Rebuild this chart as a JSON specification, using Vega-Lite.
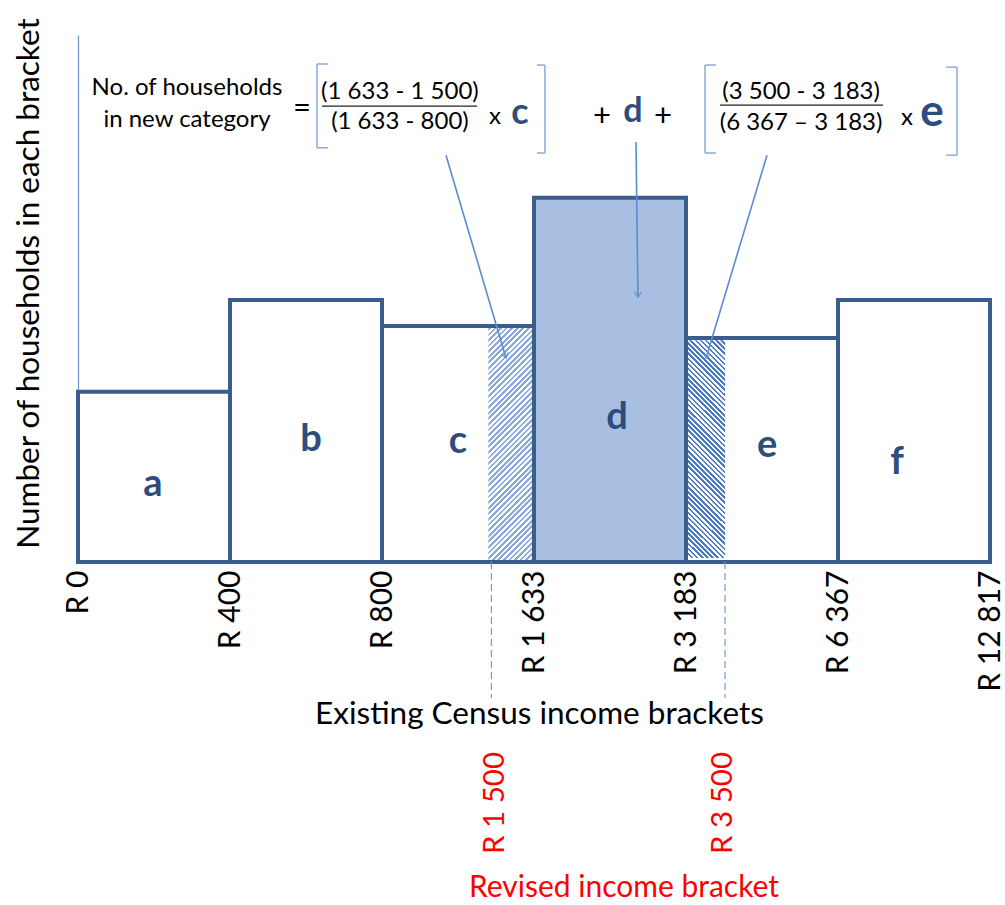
{
  "$schema": "https://vega.github.io/schema/vega-lite/v6.json",
  "width": 912,
  "height": 527,
  "autosize": {"type": "none"},
  "padding": {"left": 78, "top": 35, "right": 15, "bottom": 343},
  "background": "white",
  "config": {"view": {"stroke": null}, "font": "Lato", "text": {"font": "Lato"}},
  "data": {"values": [
    {"kind": "bar", "name": "a", "x": 0, "x2": 1, "y": 32.3, "y2": 0},
    {"kind": "bar", "name": "b", "x": 1, "x2": 2, "y": 49.7, "y2": 0},
    {"kind": "bar", "name": "c", "x": 2, "x2": 3, "y": 44.8, "y2": 0},
    {"kind": "bar", "name": "d", "x": 3, "x2": 4, "y": 69.1, "y2": 0},
    {"kind": "bar", "name": "e", "x": 4, "x2": 5, "y": 42.5, "y2": 0},
    {"kind": "bar", "name": "f", "x": 5, "x2": 6, "y": 49.7, "y2": 0},
    {"kind": "hatchc", "x": 2.7, "x2": 3, "y": 44.4, "y2": 0},
    {"kind": "hatche", "x": 4, "x2": 4.257, "y": 42.1, "y2": 0.76},
    {"kind": "letter", "label": "a", "x": 0.493, "y": 14.6},
    {"kind": "letter", "label": "b", "x": 1.533, "y": 23.1},
    {"kind": "letter", "label": "c", "x": 2.5, "y": 22.8},
    {"kind": "letter", "label": "d", "x": 3.546, "y": 27.3},
    {"kind": "letter", "label": "e", "x": 4.533, "y": 22.0},
    {"kind": "letter", "label": "f", "x": 5.388, "y": 18.8},
    {"kind": "ftext", "label": "No. of households", "x": 0.717, "y": 89.9},
    {"kind": "ftext", "label": "in new category", "x": 0.717, "y": 83.9},
    {"kind": "fplus", "label": "=", "x": 1.474, "y": 86.0},
    {"kind": "ftext", "label": "(1 633 - 1 500)", "x": 2.118, "y": 89.2},
    {"kind": "ftext", "label": "(1 633 - 800)", "x": 2.118, "y": 83.5},
    {"kind": "ftext", "label": "x", "x": 2.743, "y": 84.4},
    {"kind": "fplus", "label": "+", "x": 3.447, "y": 84.4},
    {"kind": "fplus", "label": "+", "x": 3.849, "y": 84.4},
    {"kind": "ftext", "label": "(3 500 - 3 183)", "x": 4.757, "y": 89.2},
    {"kind": "ftext", "label": "(6 367 – 3 183)", "x": 4.757, "y": 83.3},
    {"kind": "ftext", "label": "x", "x": 5.454, "y": 84.3},
    {"kind": "fbold", "label": "c", "x": 2.908, "y": 85.2},
    {"kind": "fbold", "label": "d", "x": 3.651, "y": 85.4},
    {"kind": "fbold", "label": "e", "x": 5.618, "y": 85.2},
    {"kind": "bracket", "x": 1.572, "y": 94.5, "x2": 1.572, "y2": 78.6},
    {"kind": "bracket", "x": 1.572, "y": 94.5, "x2": 1.645, "y2": 94.5},
    {"kind": "bracket", "x": 1.572, "y": 78.6, "x2": 1.645, "y2": 78.6},
    {"kind": "bracket", "x": 3.072, "y": 94.3, "x2": 3.072, "y2": 77.6},
    {"kind": "bracket", "x": 3.02, "y": 94.3, "x2": 3.072, "y2": 94.3},
    {"kind": "bracket", "x": 3.02, "y": 77.6, "x2": 3.072, "y2": 77.6},
    {"kind": "bracket", "x": 4.125, "y": 94.3, "x2": 4.125, "y2": 77.6},
    {"kind": "bracket", "x": 4.125, "y": 94.3, "x2": 4.197, "y2": 94.3},
    {"kind": "bracket", "x": 4.125, "y": 77.6, "x2": 4.197, "y2": 77.6},
    {"kind": "bracket", "x": 5.783, "y": 93.9, "x2": 5.783, "y2": 77.2},
    {"kind": "bracket", "x": 5.711, "y": 93.9, "x2": 5.783, "y2": 93.9},
    {"kind": "bracket", "x": 5.711, "y": 77.2, "x2": 5.783, "y2": 77.2},
    {"kind": "fline", "x": 1.605, "y": 86.5, "x2": 2.625, "y2": 86.5},
    {"kind": "fline", "x": 4.224, "y": 86.7, "x2": 5.296, "y2": 86.7},
    {"kind": "arrow", "name": "c", "x": 2.421, "y": 77.2, "x2": 2.816, "y2": 38.7},
    {"kind": "arrow", "name": "d", "x": 3.671, "y": 79.7, "x2": 3.684, "y2": 50.3},
    {"kind": "arrow", "name": "e", "x": 4.533, "y": 77.2, "x2": 4.132, "y2": 38.7},
    {"kind": "dash", "x": 2.72, "y": 0, "x2": 2.72, "y2": -25.8},
    {"kind": "dash", "x": 4.257, "y": 0, "x2": 4.257, "y2": -25.8},
    {"kind": "red", "label": "R 1 500", "x": 2.743, "y": -36.05},
    {"kind": "red", "label": "R 3 500", "x": 4.243, "y": -36.05},
    {"kind": "redtitle", "label": "Revised income bracket", "x": 3.592, "y": -61.8}
  ]},
  "encoding": {
    "x": {
      "field": "x", "type": "quantitative",
      "scale": {"domain": [0, 6], "nice": false, "zero": false},
      "axis": {
        "values": [0, 1, 2, 3, 4, 5, 6],
        "labelExpr": "['R 0','R 400','R 800','R 1 633','R 3 183','R 6 367','R 12 817'][datum.value]",
        "labelAngle": -90, "labelFontSize": 30, "labelFont": "Lato", "labelColor": "black",
        "labelPadding": 8, "labelOverlap": false, "labelBound": false, "labelFlush": false,
        "domain": false, "ticks": false, "grid": false,
        "title": "Existing Census income brackets", "titleFont": "Lato", "titleFontSize": 31.5,
        "titleFontWeight": "normal", "titleColor": "black", "titleX": 461, "titleY": 136,
        "titleBaseline": "top"
      }
    },
    "y": {
      "field": "y", "type": "quantitative",
      "scale": {"domain": [0, 100], "nice": false, "zero": false},
      "axis": {
        "domain": true, "domainColor": "#6f96cf", "domainWidth": 1.2, "ticks": false, "labels": false, "grid": false,
        "title": "Number of households in each bracket", "titleFont": "Lato", "titleFontSize": 31.5,
        "titleFontWeight": "normal", "titleColor": "black", "titleX": -40, "titleY": 248,
        "titleBaseline": "alphabetic", "titleAngle": -90
      }
    }
  },
  "layer": [
    {
      "transform": [{"filter": "datum.kind === 'bar' && datum.name === 'd'"}],
      "mark": {"type": "rect", "fill": "#a9bfe2", "stroke": null},
      "encoding": {"x2": {"field": "x2"}, "y2": {"field": "y2"}}
    },
    {
      "transform": [{"filter": "datum.kind === 'hatchc'"}],
      "mark": {"type": "rect", "stroke": null, "fill": {"gradient": "linear", "x1": 0, "y1": 0, "x2": 0.2243, "y2": 1.151, "stops": [
        {"offset":0,"color":"#8aa9dc"},{"offset":0.01,"color":"#8aa9dc"},{"offset":0.01,"color":"#ffffff"},{"offset":0.02,"color":"#ffffff"},
        {"offset":0.02,"color":"#8aa9dc"},{"offset":0.03,"color":"#8aa9dc"},{"offset":0.03,"color":"#ffffff"},{"offset":0.04,"color":"#ffffff"},
        {"offset":0.04,"color":"#8aa9dc"},{"offset":0.05,"color":"#8aa9dc"},{"offset":0.05,"color":"#ffffff"},{"offset":0.06,"color":"#ffffff"},
        {"offset":0.06,"color":"#8aa9dc"},{"offset":0.07,"color":"#8aa9dc"},{"offset":0.07,"color":"#ffffff"},{"offset":0.08,"color":"#ffffff"},
        {"offset":0.08,"color":"#8aa9dc"},{"offset":0.09,"color":"#8aa9dc"},{"offset":0.09,"color":"#ffffff"},{"offset":0.10,"color":"#ffffff"},
        {"offset":0.10,"color":"#8aa9dc"},{"offset":0.11,"color":"#8aa9dc"},{"offset":0.11,"color":"#ffffff"},{"offset":0.12,"color":"#ffffff"},
        {"offset":0.12,"color":"#8aa9dc"},{"offset":0.13,"color":"#8aa9dc"},{"offset":0.13,"color":"#ffffff"},{"offset":0.14,"color":"#ffffff"},
        {"offset":0.14,"color":"#8aa9dc"},{"offset":0.15,"color":"#8aa9dc"},{"offset":0.15,"color":"#ffffff"},{"offset":0.16,"color":"#ffffff"},
        {"offset":0.16,"color":"#8aa9dc"},{"offset":0.17,"color":"#8aa9dc"},{"offset":0.17,"color":"#ffffff"},{"offset":0.18,"color":"#ffffff"},
        {"offset":0.18,"color":"#8aa9dc"},{"offset":0.19,"color":"#8aa9dc"},{"offset":0.19,"color":"#ffffff"},{"offset":0.20,"color":"#ffffff"},
        {"offset":0.20,"color":"#8aa9dc"},{"offset":0.21,"color":"#8aa9dc"},{"offset":0.21,"color":"#ffffff"},{"offset":0.22,"color":"#ffffff"},
        {"offset":0.22,"color":"#8aa9dc"},{"offset":0.23,"color":"#8aa9dc"},{"offset":0.23,"color":"#ffffff"},{"offset":0.24,"color":"#ffffff"},
        {"offset":0.24,"color":"#8aa9dc"},{"offset":0.25,"color":"#8aa9dc"},{"offset":0.25,"color":"#ffffff"},{"offset":0.26,"color":"#ffffff"},
        {"offset":0.26,"color":"#8aa9dc"},{"offset":0.27,"color":"#8aa9dc"},{"offset":0.27,"color":"#ffffff"},{"offset":0.28,"color":"#ffffff"},
        {"offset":0.28,"color":"#8aa9dc"},{"offset":0.29,"color":"#8aa9dc"},{"offset":0.29,"color":"#ffffff"},{"offset":0.30,"color":"#ffffff"},
        {"offset":0.30,"color":"#8aa9dc"},{"offset":0.31,"color":"#8aa9dc"},{"offset":0.31,"color":"#ffffff"},{"offset":0.32,"color":"#ffffff"},
        {"offset":0.32,"color":"#8aa9dc"},{"offset":0.33,"color":"#8aa9dc"},{"offset":0.33,"color":"#ffffff"},{"offset":0.34,"color":"#ffffff"},
        {"offset":0.34,"color":"#8aa9dc"},{"offset":0.35,"color":"#8aa9dc"},{"offset":0.35,"color":"#ffffff"},{"offset":0.36,"color":"#ffffff"},
        {"offset":0.36,"color":"#8aa9dc"},{"offset":0.37,"color":"#8aa9dc"},{"offset":0.37,"color":"#ffffff"},{"offset":0.38,"color":"#ffffff"},
        {"offset":0.38,"color":"#8aa9dc"},{"offset":0.39,"color":"#8aa9dc"},{"offset":0.39,"color":"#ffffff"},{"offset":0.40,"color":"#ffffff"},
        {"offset":0.40,"color":"#8aa9dc"},{"offset":0.41,"color":"#8aa9dc"},{"offset":0.41,"color":"#ffffff"},{"offset":0.42,"color":"#ffffff"},
        {"offset":0.42,"color":"#8aa9dc"},{"offset":0.43,"color":"#8aa9dc"},{"offset":0.43,"color":"#ffffff"},{"offset":0.44,"color":"#ffffff"},
        {"offset":0.44,"color":"#8aa9dc"},{"offset":0.45,"color":"#8aa9dc"},{"offset":0.45,"color":"#ffffff"},{"offset":0.46,"color":"#ffffff"},
        {"offset":0.46,"color":"#8aa9dc"},{"offset":0.47,"color":"#8aa9dc"},{"offset":0.47,"color":"#ffffff"},{"offset":0.48,"color":"#ffffff"},
        {"offset":0.48,"color":"#8aa9dc"},{"offset":0.49,"color":"#8aa9dc"},{"offset":0.49,"color":"#ffffff"},{"offset":0.50,"color":"#ffffff"},
        {"offset":0.50,"color":"#8aa9dc"},{"offset":0.51,"color":"#8aa9dc"},{"offset":0.51,"color":"#ffffff"},{"offset":0.52,"color":"#ffffff"},
        {"offset":0.52,"color":"#8aa9dc"},{"offset":0.53,"color":"#8aa9dc"},{"offset":0.53,"color":"#ffffff"},{"offset":0.54,"color":"#ffffff"},
        {"offset":0.54,"color":"#8aa9dc"},{"offset":0.55,"color":"#8aa9dc"},{"offset":0.55,"color":"#ffffff"},{"offset":0.56,"color":"#ffffff"},
        {"offset":0.56,"color":"#8aa9dc"},{"offset":0.57,"color":"#8aa9dc"},{"offset":0.57,"color":"#ffffff"},{"offset":0.58,"color":"#ffffff"},
        {"offset":0.58,"color":"#8aa9dc"},{"offset":0.59,"color":"#8aa9dc"},{"offset":0.59,"color":"#ffffff"},{"offset":0.60,"color":"#ffffff"},
        {"offset":0.60,"color":"#8aa9dc"},{"offset":0.61,"color":"#8aa9dc"},{"offset":0.61,"color":"#ffffff"},{"offset":0.62,"color":"#ffffff"},
        {"offset":0.62,"color":"#8aa9dc"},{"offset":0.63,"color":"#8aa9dc"},{"offset":0.63,"color":"#ffffff"},{"offset":0.64,"color":"#ffffff"},
        {"offset":0.64,"color":"#8aa9dc"},{"offset":0.65,"color":"#8aa9dc"},{"offset":0.65,"color":"#ffffff"},{"offset":0.66,"color":"#ffffff"},
        {"offset":0.66,"color":"#8aa9dc"},{"offset":0.67,"color":"#8aa9dc"},{"offset":0.67,"color":"#ffffff"},{"offset":0.68,"color":"#ffffff"},
        {"offset":0.68,"color":"#8aa9dc"},{"offset":0.69,"color":"#8aa9dc"},{"offset":0.69,"color":"#ffffff"},{"offset":0.70,"color":"#ffffff"},
        {"offset":0.70,"color":"#8aa9dc"},{"offset":0.71,"color":"#8aa9dc"},{"offset":0.71,"color":"#ffffff"},{"offset":0.72,"color":"#ffffff"},
        {"offset":0.72,"color":"#8aa9dc"},{"offset":0.73,"color":"#8aa9dc"},{"offset":0.73,"color":"#ffffff"},{"offset":0.74,"color":"#ffffff"},
        {"offset":0.74,"color":"#8aa9dc"},{"offset":0.75,"color":"#8aa9dc"},{"offset":0.75,"color":"#ffffff"},{"offset":0.76,"color":"#ffffff"},
        {"offset":0.76,"color":"#8aa9dc"},{"offset":0.77,"color":"#8aa9dc"},{"offset":0.77,"color":"#ffffff"},{"offset":0.78,"color":"#ffffff"},
        {"offset":0.78,"color":"#8aa9dc"},{"offset":0.79,"color":"#8aa9dc"},{"offset":0.79,"color":"#ffffff"},{"offset":0.80,"color":"#ffffff"},
        {"offset":0.80,"color":"#8aa9dc"},{"offset":0.81,"color":"#8aa9dc"},{"offset":0.81,"color":"#ffffff"},{"offset":0.82,"color":"#ffffff"},
        {"offset":0.82,"color":"#8aa9dc"},{"offset":0.83,"color":"#8aa9dc"},{"offset":0.83,"color":"#ffffff"},{"offset":0.84,"color":"#ffffff"},
        {"offset":0.84,"color":"#8aa9dc"},{"offset":0.85,"color":"#8aa9dc"},{"offset":0.85,"color":"#ffffff"},{"offset":0.86,"color":"#ffffff"},
        {"offset":0.86,"color":"#8aa9dc"},{"offset":0.87,"color":"#8aa9dc"},{"offset":0.87,"color":"#ffffff"},{"offset":0.88,"color":"#ffffff"},
        {"offset":0.88,"color":"#8aa9dc"},{"offset":0.89,"color":"#8aa9dc"},{"offset":0.89,"color":"#ffffff"},{"offset":0.90,"color":"#ffffff"},
        {"offset":0.90,"color":"#8aa9dc"},{"offset":0.91,"color":"#8aa9dc"},{"offset":0.91,"color":"#ffffff"},{"offset":0.92,"color":"#ffffff"},
        {"offset":0.92,"color":"#8aa9dc"},{"offset":0.93,"color":"#8aa9dc"},{"offset":0.93,"color":"#ffffff"},{"offset":0.94,"color":"#ffffff"},
        {"offset":0.94,"color":"#8aa9dc"},{"offset":0.95,"color":"#8aa9dc"},{"offset":0.95,"color":"#ffffff"},{"offset":0.96,"color":"#ffffff"},
        {"offset":0.96,"color":"#8aa9dc"},{"offset":0.97,"color":"#8aa9dc"},{"offset":0.97,"color":"#ffffff"},{"offset":0.98,"color":"#ffffff"},
        {"offset":0.98,"color":"#8aa9dc"},{"offset":0.99,"color":"#8aa9dc"},{"offset":0.99,"color":"#ffffff"},{"offset":1,"color":"#ffffff"}
      ]}},
      "encoding": {"x2": {"field": "x2"}, "y2": {"field": "y2"}}
    },
    {
      "transform": [{"filter": "datum.kind === 'hatche'"}],
      "mark": {"type": "rect", "stroke": null, "fill": {"gradient": "linear", "x1": 0, "y1": 1, "x2": 0.2044, "y2": -0.1424, "stops": [
        {"offset":0,"color":"#4d7cc5"},{"offset":0.01,"color":"#4d7cc5"},{"offset":0.01,"color":"#ffffff"},{"offset":0.02,"color":"#ffffff"},
        {"offset":0.02,"color":"#4d7cc5"},{"offset":0.03,"color":"#4d7cc5"},{"offset":0.03,"color":"#ffffff"},{"offset":0.04,"color":"#ffffff"},
        {"offset":0.04,"color":"#4d7cc5"},{"offset":0.05,"color":"#4d7cc5"},{"offset":0.05,"color":"#ffffff"},{"offset":0.06,"color":"#ffffff"},
        {"offset":0.06,"color":"#4d7cc5"},{"offset":0.07,"color":"#4d7cc5"},{"offset":0.07,"color":"#ffffff"},{"offset":0.08,"color":"#ffffff"},
        {"offset":0.08,"color":"#4d7cc5"},{"offset":0.09,"color":"#4d7cc5"},{"offset":0.09,"color":"#ffffff"},{"offset":0.10,"color":"#ffffff"},
        {"offset":0.10,"color":"#4d7cc5"},{"offset":0.11,"color":"#4d7cc5"},{"offset":0.11,"color":"#ffffff"},{"offset":0.12,"color":"#ffffff"},
        {"offset":0.12,"color":"#4d7cc5"},{"offset":0.13,"color":"#4d7cc5"},{"offset":0.13,"color":"#ffffff"},{"offset":0.14,"color":"#ffffff"},
        {"offset":0.14,"color":"#4d7cc5"},{"offset":0.15,"color":"#4d7cc5"},{"offset":0.15,"color":"#ffffff"},{"offset":0.16,"color":"#ffffff"},
        {"offset":0.16,"color":"#4d7cc5"},{"offset":0.17,"color":"#4d7cc5"},{"offset":0.17,"color":"#ffffff"},{"offset":0.18,"color":"#ffffff"},
        {"offset":0.18,"color":"#4d7cc5"},{"offset":0.19,"color":"#4d7cc5"},{"offset":0.19,"color":"#ffffff"},{"offset":0.20,"color":"#ffffff"},
        {"offset":0.20,"color":"#4d7cc5"},{"offset":0.21,"color":"#4d7cc5"},{"offset":0.21,"color":"#ffffff"},{"offset":0.22,"color":"#ffffff"},
        {"offset":0.22,"color":"#4d7cc5"},{"offset":0.23,"color":"#4d7cc5"},{"offset":0.23,"color":"#ffffff"},{"offset":0.24,"color":"#ffffff"},
        {"offset":0.24,"color":"#4d7cc5"},{"offset":0.25,"color":"#4d7cc5"},{"offset":0.25,"color":"#ffffff"},{"offset":0.26,"color":"#ffffff"},
        {"offset":0.26,"color":"#4d7cc5"},{"offset":0.27,"color":"#4d7cc5"},{"offset":0.27,"color":"#ffffff"},{"offset":0.28,"color":"#ffffff"},
        {"offset":0.28,"color":"#4d7cc5"},{"offset":0.29,"color":"#4d7cc5"},{"offset":0.29,"color":"#ffffff"},{"offset":0.30,"color":"#ffffff"},
        {"offset":0.30,"color":"#4d7cc5"},{"offset":0.31,"color":"#4d7cc5"},{"offset":0.31,"color":"#ffffff"},{"offset":0.32,"color":"#ffffff"},
        {"offset":0.32,"color":"#4d7cc5"},{"offset":0.33,"color":"#4d7cc5"},{"offset":0.33,"color":"#ffffff"},{"offset":0.34,"color":"#ffffff"},
        {"offset":0.34,"color":"#4d7cc5"},{"offset":0.35,"color":"#4d7cc5"},{"offset":0.35,"color":"#ffffff"},{"offset":0.36,"color":"#ffffff"},
        {"offset":0.36,"color":"#4d7cc5"},{"offset":0.37,"color":"#4d7cc5"},{"offset":0.37,"color":"#ffffff"},{"offset":0.38,"color":"#ffffff"},
        {"offset":0.38,"color":"#4d7cc5"},{"offset":0.39,"color":"#4d7cc5"},{"offset":0.39,"color":"#ffffff"},{"offset":0.40,"color":"#ffffff"},
        {"offset":0.40,"color":"#4d7cc5"},{"offset":0.41,"color":"#4d7cc5"},{"offset":0.41,"color":"#ffffff"},{"offset":0.42,"color":"#ffffff"},
        {"offset":0.42,"color":"#4d7cc5"},{"offset":0.43,"color":"#4d7cc5"},{"offset":0.43,"color":"#ffffff"},{"offset":0.44,"color":"#ffffff"},
        {"offset":0.44,"color":"#4d7cc5"},{"offset":0.45,"color":"#4d7cc5"},{"offset":0.45,"color":"#ffffff"},{"offset":0.46,"color":"#ffffff"},
        {"offset":0.46,"color":"#4d7cc5"},{"offset":0.47,"color":"#4d7cc5"},{"offset":0.47,"color":"#ffffff"},{"offset":0.48,"color":"#ffffff"},
        {"offset":0.48,"color":"#4d7cc5"},{"offset":0.49,"color":"#4d7cc5"},{"offset":0.49,"color":"#ffffff"},{"offset":0.50,"color":"#ffffff"},
        {"offset":0.50,"color":"#4d7cc5"},{"offset":0.51,"color":"#4d7cc5"},{"offset":0.51,"color":"#ffffff"},{"offset":0.52,"color":"#ffffff"},
        {"offset":0.52,"color":"#4d7cc5"},{"offset":0.53,"color":"#4d7cc5"},{"offset":0.53,"color":"#ffffff"},{"offset":0.54,"color":"#ffffff"},
        {"offset":0.54,"color":"#4d7cc5"},{"offset":0.55,"color":"#4d7cc5"},{"offset":0.55,"color":"#ffffff"},{"offset":0.56,"color":"#ffffff"},
        {"offset":0.56,"color":"#4d7cc5"},{"offset":0.57,"color":"#4d7cc5"},{"offset":0.57,"color":"#ffffff"},{"offset":0.58,"color":"#ffffff"},
        {"offset":0.58,"color":"#4d7cc5"},{"offset":0.59,"color":"#4d7cc5"},{"offset":0.59,"color":"#ffffff"},{"offset":0.60,"color":"#ffffff"},
        {"offset":0.60,"color":"#4d7cc5"},{"offset":0.61,"color":"#4d7cc5"},{"offset":0.61,"color":"#ffffff"},{"offset":0.62,"color":"#ffffff"},
        {"offset":0.62,"color":"#4d7cc5"},{"offset":0.63,"color":"#4d7cc5"},{"offset":0.63,"color":"#ffffff"},{"offset":0.64,"color":"#ffffff"},
        {"offset":0.64,"color":"#4d7cc5"},{"offset":0.65,"color":"#4d7cc5"},{"offset":0.65,"color":"#ffffff"},{"offset":0.66,"color":"#ffffff"},
        {"offset":0.66,"color":"#4d7cc5"},{"offset":0.67,"color":"#4d7cc5"},{"offset":0.67,"color":"#ffffff"},{"offset":0.68,"color":"#ffffff"},
        {"offset":0.68,"color":"#4d7cc5"},{"offset":0.69,"color":"#4d7cc5"},{"offset":0.69,"color":"#ffffff"},{"offset":0.70,"color":"#ffffff"},
        {"offset":0.70,"color":"#4d7cc5"},{"offset":0.71,"color":"#4d7cc5"},{"offset":0.71,"color":"#ffffff"},{"offset":0.72,"color":"#ffffff"},
        {"offset":0.72,"color":"#4d7cc5"},{"offset":0.73,"color":"#4d7cc5"},{"offset":0.73,"color":"#ffffff"},{"offset":0.74,"color":"#ffffff"},
        {"offset":0.74,"color":"#4d7cc5"},{"offset":0.75,"color":"#4d7cc5"},{"offset":0.75,"color":"#ffffff"},{"offset":0.76,"color":"#ffffff"},
        {"offset":0.76,"color":"#4d7cc5"},{"offset":0.77,"color":"#4d7cc5"},{"offset":0.77,"color":"#ffffff"},{"offset":0.78,"color":"#ffffff"},
        {"offset":0.78,"color":"#4d7cc5"},{"offset":0.79,"color":"#4d7cc5"},{"offset":0.79,"color":"#ffffff"},{"offset":0.80,"color":"#ffffff"},
        {"offset":0.80,"color":"#4d7cc5"},{"offset":0.81,"color":"#4d7cc5"},{"offset":0.81,"color":"#ffffff"},{"offset":0.82,"color":"#ffffff"},
        {"offset":0.82,"color":"#4d7cc5"},{"offset":0.83,"color":"#4d7cc5"},{"offset":0.83,"color":"#ffffff"},{"offset":0.84,"color":"#ffffff"},
        {"offset":0.84,"color":"#4d7cc5"},{"offset":0.85,"color":"#4d7cc5"},{"offset":0.85,"color":"#ffffff"},{"offset":0.86,"color":"#ffffff"},
        {"offset":0.86,"color":"#4d7cc5"},{"offset":0.87,"color":"#4d7cc5"},{"offset":0.87,"color":"#ffffff"},{"offset":0.88,"color":"#ffffff"},
        {"offset":0.88,"color":"#4d7cc5"},{"offset":0.89,"color":"#4d7cc5"},{"offset":0.89,"color":"#ffffff"},{"offset":0.90,"color":"#ffffff"},
        {"offset":0.90,"color":"#4d7cc5"},{"offset":0.91,"color":"#4d7cc5"},{"offset":0.91,"color":"#ffffff"},{"offset":0.92,"color":"#ffffff"},
        {"offset":0.92,"color":"#4d7cc5"},{"offset":0.93,"color":"#4d7cc5"},{"offset":0.93,"color":"#ffffff"},{"offset":0.94,"color":"#ffffff"},
        {"offset":0.94,"color":"#4d7cc5"},{"offset":0.95,"color":"#4d7cc5"},{"offset":0.95,"color":"#ffffff"},{"offset":0.96,"color":"#ffffff"},
        {"offset":0.96,"color":"#4d7cc5"},{"offset":0.97,"color":"#4d7cc5"},{"offset":0.97,"color":"#ffffff"},{"offset":0.98,"color":"#ffffff"},
        {"offset":0.98,"color":"#4d7cc5"},{"offset":0.99,"color":"#4d7cc5"},{"offset":0.99,"color":"#ffffff"},{"offset":1,"color":"#ffffff"}
      ]}},
      "encoding": {"x2": {"field": "x2"}, "y2": {"field": "y2"}}
    },
    {
      "transform": [{"filter": "datum.kind === 'bar'"}],
      "mark": {"type": "rect", "fill": null, "fillOpacity": 0, "stroke": "#3a5e8c", "strokeWidth": 4},
      "encoding": {"x2": {"field": "x2"}, "y2": {"field": "y2"}}
    },
    {
      "transform": [{"filter": "datum.kind === 'dash'"}],
      "mark": {"type": "rule", "stroke": "#6d9bd6", "strokeWidth": 1.2, "strokeDash": [7, 4]},
      "encoding": {"x2": {"field": "x2"}, "y2": {"field": "y2"}}
    },
    {
      "transform": [{"filter": "datum.kind === 'bracket'"}],
      "mark": {"type": "rule", "stroke": "#8eaadb", "strokeWidth": 1.5},
      "encoding": {"x2": {"field": "x2"}, "y2": {"field": "y2"}}
    },
    {
      "transform": [{"filter": "datum.kind === 'fline'"}],
      "mark": {"type": "rule", "stroke": "#222222", "strokeWidth": 1.3},
      "encoding": {"x2": {"field": "x2"}, "y2": {"field": "y2"}}
    },
    {
      "transform": [{"filter": "datum.kind === 'arrow'"}],
      "mark": {"type": "rule", "stroke": "#5b8cd2", "strokeWidth": 1.6},
      "encoding": {"x2": {"field": "x2"}, "y2": {"field": "y2"}}
    },
    {
      "transform": [{"filter": "datum.kind === 'arrow' && datum.name === 'c'"}],
      "mark": {"type": "point", "shape": "M-1,-1.4L0,0L1,-1.4", "size": 49, "filled": false, "stroke": "#5b8cd2", "strokeWidth": 1.6, "angle": -16.5},
      "encoding": {"x": {"field": "x2", "type": "quantitative"}, "y": {"field": "y2", "type": "quantitative"}}
    },
    {
      "transform": [{"filter": "datum.kind === 'arrow' && datum.name === 'd'"}],
      "mark": {"type": "point", "shape": "M-1,-1.4L0,0L1,-1.4", "size": 49, "filled": false, "stroke": "#5b8cd2", "strokeWidth": 1.6, "angle": 0},
      "encoding": {"x": {"field": "x2", "type": "quantitative"}, "y": {"field": "y2", "type": "quantitative"}}
    },
    {
      "transform": [{"filter": "datum.kind === 'arrow' && datum.name === 'e'"}],
      "mark": {"type": "point", "shape": "M-1,-1.4L0,0L1,-1.4", "size": 49, "filled": false, "stroke": "#5b8cd2", "strokeWidth": 1.6, "angle": 17},
      "encoding": {"x": {"field": "x2", "type": "quantitative"}, "y": {"field": "y2", "type": "quantitative"}}
    },
    {
      "transform": [{"filter": "datum.kind === 'letter'"}],
      "mark": {"type": "text", "font": "Lato", "fontSize": 38, "fontWeight": "bold", "color": "#2c4d7e", "baseline": "middle", "align": "center"},
      "encoding": {"text": {"field": "label"}}
    },
    {
      "transform": [{"filter": "datum.kind === 'ftext'"}],
      "mark": {"type": "text", "font": "Lato", "fontSize": 24, "color": "black", "baseline": "middle", "align": "center"},
      "encoding": {"text": {"field": "label"}}
    },
    {
      "transform": [{"filter": "datum.kind === 'fplus'"}],
      "mark": {"type": "text", "font": "Lato", "fontSize": 31, "color": "black", "baseline": "middle", "align": "center"},
      "encoding": {"text": {"field": "label"}}
    },
    {
      "transform": [{"filter": "datum.kind === 'fbold' && datum.label === 'c'"}],
      "mark": {"type": "text", "font": "Lato", "fontSize": 36, "fontWeight": "bold", "color": "#2c4d7e", "baseline": "middle", "align": "center"},
      "encoding": {"text": {"field": "label"}}
    },
    {
      "transform": [{"filter": "datum.kind === 'fbold' && datum.label === 'd'"}],
      "mark": {"type": "text", "font": "Lato", "fontSize": 34, "fontWeight": "bold", "color": "#2c4d7e", "baseline": "middle", "align": "center"},
      "encoding": {"text": {"field": "label"}}
    },
    {
      "transform": [{"filter": "datum.kind === 'fbold' && datum.label === 'e'"}],
      "mark": {"type": "text", "font": "Lato", "fontSize": 44, "fontWeight": "bold", "color": "#2c4d7e", "baseline": "middle", "align": "center"},
      "encoding": {"text": {"field": "label"}}
    },
    {
      "transform": [{"filter": "datum.kind === 'red'"}],
      "mark": {"type": "text", "font": "Lato", "fontSize": 29.5, "color": "#ff0000", "baseline": "middle", "align": "right", "angle": -90},
      "encoding": {"text": {"field": "label"}}
    },
    {
      "transform": [{"filter": "datum.kind === 'redtitle'"}],
      "mark": {"type": "text", "font": "Lato", "fontSize": 30, "color": "#ff0000", "baseline": "middle", "align": "center"},
      "encoding": {"text": {"field": "label"}}
    }
  ]
}
